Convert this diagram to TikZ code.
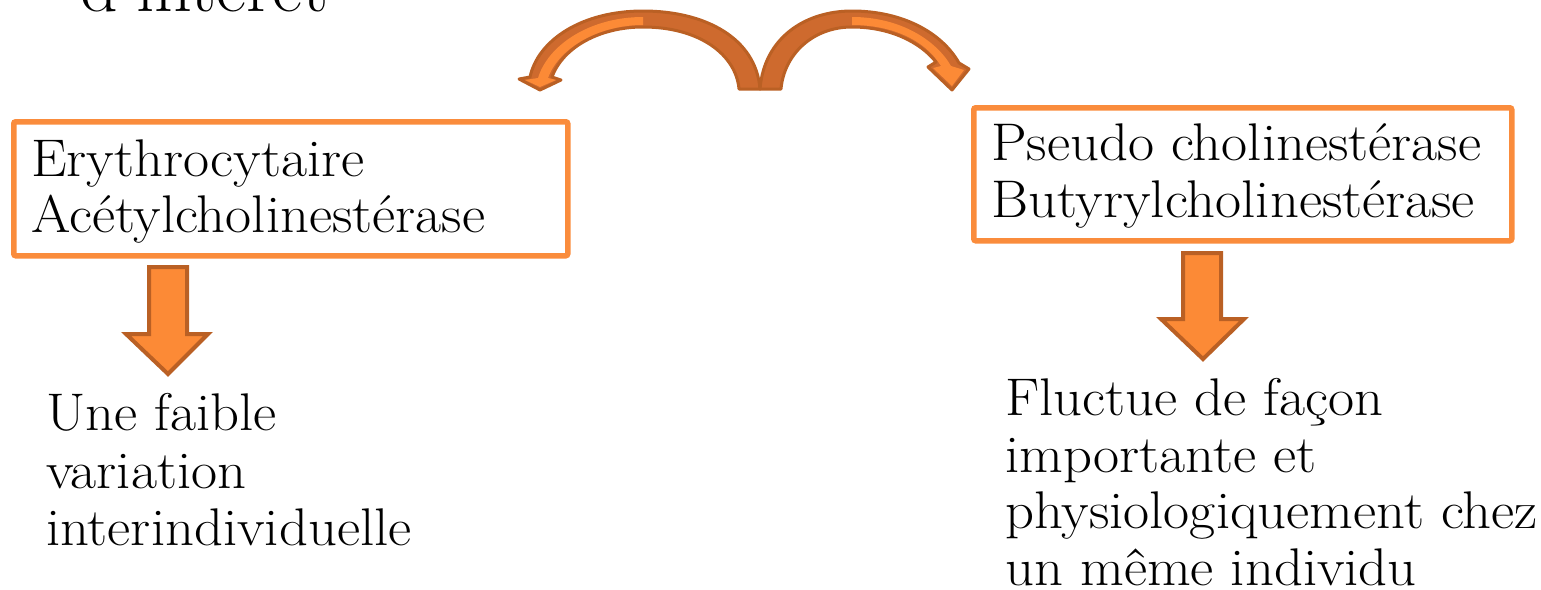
\documentclass[tikz,border=0pt]{standalone}
\usepackage{fontspec}
\setmainfont{Latin Modern Roman}[FakeStretch=1.07]
\definecolor{boxorange}{RGB}{250,140,60}
\definecolor{lightor}{RGB}{252,138,54}
\definecolor{midor}{RGB}{206,106,46}
\definecolor{darkor}{RGB}{186,96,36}
\tikzset{
  txt/.style={anchor=base west, inner sep=0pt, font=\fontsize{53}{57}\selectfont},
  boxnode/.style={draw=boxorange, line width=5.5pt, rounded corners=2pt, inner sep=0pt},
  blockarrow/.style={fill=lightor, draw=darkor, line width=4pt, line join=miter},
  curvearrow/.style={fill=midor, draw=darkor, line width=3pt, line join=round},
  curvefront/.style={fill=lightor, draw=none}
}
\begin{document}
\begin{tikzpicture}[x=1pt,y=-1pt]
\useasboundingbox (0,0) rectangle (1541,589);
\clip (0,0) rectangle (1541,589);
% title remnant
\node[anchor=base west, inner sep=0pt, font=\fontsize{69}{72}\selectfont] (title) at (80,11) {d’intérêt};
% boxes
\node[boxnode, minimum width=554pt, minimum height=134pt, anchor=north west] (boxL) at (11,119) {};
\node[boxnode, minimum width=538pt, minimum height=133pt, anchor=north west] (boxR) at (971,105) {};
\node[txt] (l1) at (31,176) {Erythrocytaire};
\node[txt] (l2) at (31,232) {Acétylcholinestérase};
\node[txt] (r1) at (991,160) {Pseudo cholinestérase};
\node[txt] (r2) at (991,217) {Butyrylcholinestérase};
% result texts
\node[txt] (a1) at (46,430) {Une faible};
\node[txt] (a2) at (46,488) {variation};
\node[txt] (a3) at (46,545) {interindividuelle};
\node[txt] (b1) at (1005,415) {Fluctue de façon};
\node[txt] (b2) at (1005,472) {importante et};
\node[txt] (b3) at (1005,528) {physiologiquement chez};
\node[txt] (b4) at (1005,585) {un même individu};
% block arrows
\draw[blockarrow] (149,267) -- (187,267) -- (187,334) -- (208,334) -- (168,374) -- (126,334) -- (149,334) -- cycle;
\draw[blockarrow] (1183,253) -- (1221,253) -- (1221,319) -- (1244,319) -- (1203,359) -- (1161,319) -- (1183,319) -- cycle;
% curved arrow to the left
\draw[curvearrow] (760,89) .. controls (756,38) and (705,11) .. (643,11)
   .. controls (582,11) and (538,40) .. (530,77) -- (519,79) -- (540,90) -- (561,80) -- (552,77)
   .. controls (563,47) and (600,27) .. (643,27)
   .. controls (700,27) and (736,55) .. (739,89) -- cycle;
\fill[curvefront] (643,17) .. controls (590,17) and (548,45) .. (538,78) -- (525,80) -- (540,87) -- (556,80) -- (548,78)
   .. controls (559,48) and (598,25) .. (643,25) -- cycle;
% curved arrow to the right
\draw[curvearrow] (760,89) .. controls (764,38) and (805,11) .. (852,11)
   .. controls (903,11) and (942,33) .. (959,63) -- (969,69) -- (952,90) -- (928,67) -- (936,62)
   .. controls (920,42) and (890,27) .. (852,27)
   .. controls (812,27) and (784,55) .. (781,89) -- cycle;
\fill[curvefront] (852,17) .. controls (900,17) and (936,40) .. (951,66) -- (964,70) -- (952,86) -- (933,68) -- (941,66)
   .. controls (925,40) and (892,25) .. (852,25) -- cycle;
\end{tikzpicture}
\end{document}
